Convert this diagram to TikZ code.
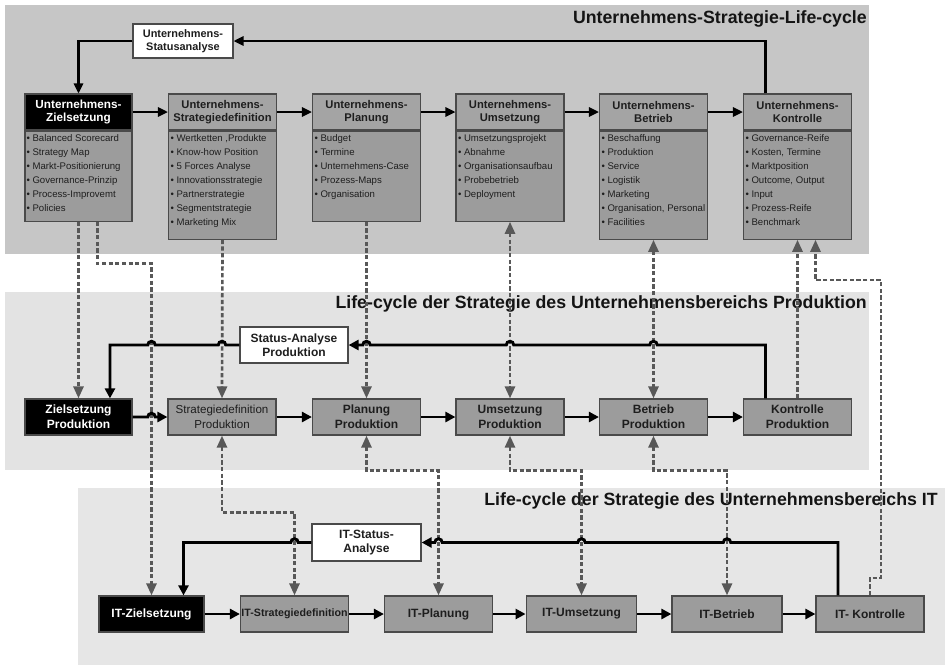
\documentclass[tikz,border=0pt]{standalone}
\usepackage{fontspec}
\setmainfont{Liberation Sans}
\usetikzlibrary{arrows.meta,calc}

\definecolor{bandA}{HTML}{C6C6C6}
\definecolor{bandB}{HTML}{E3E3E3}
\definecolor{bandC}{HTML}{E6E6E6}
\definecolor{boxgray}{HTML}{9C9C9C}
\definecolor{hdrgray}{HTML}{A4A4A4}
\definecolor{edge}{HTML}{4A4A4A}
\definecolor{dashgray}{HTML}{585858}
\definecolor{txt}{HTML}{1E1E1E}

% bullet list inside the body of a phase box
\newcommand\bl{\textbullet\hspace{2pt}}
\newcommand\blist[2]{\parbox[t][#1][t]{78pt}{\fontsize{7.2}{10.5}\selectfont\raggedright\strut #2}}

\begin{document}
\begin{tikzpicture}[x=0.75pt,y=-0.75pt,
  hdr/.style={draw=edge,line width=0.9pt,fill=hdrgray,minimum width=81pt,minimum height=27pt,
    inner sep=0pt,align=center,font=\bfseries\fontsize{8.4}{9.6}\selectfont,text=txt},
  blackhdr/.style={hdr,fill=black,text=white,font=\bfseries\fontsize{8.8}{10}\selectfont},
  bodybox/.style={draw=edge,line width=0.9pt,fill=boxgray,anchor=north,inner xsep=1.5pt,inner ysep=0pt,text=txt},
  pbox/.style={draw=edge,line width=0.9pt,fill=boxgray,minimum width=81pt,minimum height=27pt,
    inner sep=0pt,align=center,font=\bfseries\fontsize{9}{11}\selectfont,text=txt},
  pblack/.style={pbox,fill=black,text=white},
  statbox/.style={draw=edge,line width=0.9pt,fill=white,align=center,inner sep=0pt,
    font=\bfseries\fontsize{9}{10.8}\selectfont,text=txt},
  title/.style={anchor=base east,inner sep=0pt,font=\bfseries\fontsize{13.3}{16}\selectfont,text=black!92},
  flowt/.style={line width=1.6pt,-{Triangle[length=7.5pt,width=7pt]}},
  flow/.style={line width=2.2pt,-{Triangle[length=7.5pt,width=7.5pt]}},
  dl/.style={draw=dashgray,line width=2pt,dash pattern=on 3.2pt off 1.8pt},
  dla/.style={dl,-{Triangle[length=9pt,width=7.5pt]}},
  dlb/.style={dl,{Triangle[length=9pt,width=7.5pt]}-{Triangle[length=9pt,width=7.5pt]}},
  hopl/.style={insert path={-- ([xshift=2.8pt]#1) arc[start angle=0,end angle=180,radius=2.8pt]}},
  hopr/.style={insert path={-- ([xshift=-2.8pt]#1) arc[start angle=180,end angle=0,radius=2.8pt]}}]

\useasboundingbox (0,0) rectangle (945,665);

% background bands
\fill[bandA] (5,5) rectangle (869,254);
\fill[bandB] (5,292) rectangle (869,470);
\fill[bandC] (78,488) rectangle (945,665);

\node[title] (t1) at (867,23) {Unternehmens-Strategie-Life-cycle};
\node[title] (t2) at (867,308) {Life-cycle der Strategie des Unternehmensbereichs Produktion};
\node[title] (t3) at (938,505) {Life-cycle der Strategie des Unternehmensbereichs IT};

% ---------- company level ----------
\node[blackhdr,minimum width=80.25pt] (zh) at (78.5,112) {Unternehmens-\\Zielsetzung};
\node[hdr] (sh) at (222.5,112) {Unternehmens-\\Strategiedefinition};
\node[hdr] (ph) at (366.5,112) {Unternehmens-\\Planung};
\node[hdr] (uh) at (510,112) {Unternehmens-\\Umsetzung};
\node[hdr] (bh) at (653.5,112) {Unternehmens-\\Betrieb};
\node[hdr] (kh) at (797.5,112) {Unternehmens-\\Kontrolle};

\node[bodybox,inner xsep=1.1pt] (zb) at (zh.south) {\blist{67.5pt}{\bl Balanced Scorecard\\\bl Strategy Map\\\bl Markt-Positionierung\\\bl Governance-Prinzip\\\bl Process-Improvemt\\\bl Policies}};
\node[bodybox] (sb) at (sh.south) {\blist{81pt}{\bl Wertketten ,Produkte\\\bl Know-how Position\\\bl 5 Forces Analyse\\\bl Innovationsstrategie\\\bl Partnerstrategie\\\bl Segmentstrategie\\\bl Marketing Mix}};
\node[bodybox] (pb) at (ph.south) {\blist{67.5pt}{\bl Budget\\\bl Termine\\\bl Unternehmens-Case\\\bl Prozess-Maps\\\bl Organisation}};
\node[bodybox] (ub) at (uh.south) {\blist{67.5pt}{\bl Umsetzungsprojekt\\\bl Abnahme\\\bl Organisationsaufbau\\\bl Probebetrieb\\\bl Deployment}};
\node[bodybox] (bb) at (bh.south) {\blist{81pt}{\bl Beschaffung\\\bl Produktion\\\bl Service\\\bl Logistik\\\bl Marketing\\\bl Organisation, Personal\\\bl Facilities}};
\node[bodybox] (kb) at (kh.south) {\blist{81pt}{\bl Governance-Reife\\\bl Kosten, Termine\\\bl Marktposition\\\bl Outcome, Output\\\bl Input\\\bl Prozess-Reife\\\bl Benchmark}};

\node[statbox,minimum width=75pt,minimum height=25.5pt,font=\bfseries\fontsize{8.2}{10}\selectfont] (usa) at (183,41) {Unternehmens-\\Statusanalyse};

% ---------- production level ----------
\node[pblack,minimum width=80.25pt] (zp) at (78.5,417) {Zielsetzung\\Produktion};
\node[pbox,font=\fontsize{8.7}{11}\selectfont] (sp) at (222,417) {Strategiedefinition\\Produktion};
\node[pbox] (pp) at (366.5,417) {Planung\\Produktion};
\node[pbox] (up) at (510,417) {Umsetzung\\Produktion};
\node[pbox] (bp) at (653.5,417) {Betrieb\\Produktion};
\node[pbox] (kp) at (797.5,417) {Kontrolle\\Produktion};

\node[statbox,minimum width=81pt,minimum height=27pt] (sap) at (294,345) {Status-Analyse\\Produktion};

% ---------- IT level ----------
\node[pblack,minimum width=78.75pt] (itz) at (151.5,614) {IT-Zielsetzung};
\node[pbox,font=\bfseries\fontsize{8}{10}\selectfont] (its) at (294.5,614) {IT-Strategiedefinition};
\node[pbox] (itp) at (438.5,614) {IT-Planung};
\node[pbox,minimum width=83pt] (itu) at (581.5,614) {IT-Umsetzung};
\node[pbox,minimum width=82.5pt] (itb) at (727,614) {IT-Betrieb};
\node[pbox] (itk) at (870,614) {IT- Kontrolle};

\node[statbox,minimum width=81.75pt,minimum height=27.75pt] (itsa) at (366.5,542.5) {IT-Status-\\Analyse};

% crossing points of dashed links with solid lines
\coordinate (j1) at (bp.north |- sap.east);
\coordinate (j2) at (up.north |- sap.east);
\coordinate (j3) at (pp.north |- sap.east);
\coordinate (j4) at (sp.north |- sap.west);
\coordinate (j5) at (itz.north |- sap.west);
\coordinate (j6) at (itz.north |- zp.east);
\coordinate (k1) at (itb.north |- itsa.east);
\coordinate (k2) at (itu.north |- itsa.east);
\coordinate (k3) at (itp.north |- itsa.east);
\coordinate (k4) at (its.north |- itsa.west);

\coordinate (kpo) at ([xshift=-24pt]kp.north);
\coordinate (zpi) at ([xshift=23.6pt]zp.north);
\coordinate (itko) at ([xshift=-24pt]itk.north);
\coordinate (itzi) at ([xshift=24pt]itz.north);
\coordinate (r1) at (881,578);
\coordinate (r2) at (881,280);
\coordinate (ktip) at ([xshift=13.5pt]kb.south);

% dashed links between the levels
\draw[dla] (zb.south) -- (zp.north);
\draw[dla] ([xshift=14pt]zb.south) -- ++(0,42) -| (itz.north);
\draw[dla] (sb.south) -- (sp.north);
\draw[dlb] (sp.south) -- ++(0,77) -| (its.north);
\draw[dla] (pb.south) -- (pp.north);
\draw[dlb] (pp.south) -- ++(0,35) -| (itp.north);
\draw[dlb] (ub.south) -- (up.north);
\draw[dlb] (up.south) -- ++(0,35) -| (itu.north);
\draw[dlb] (bb.south) -- (bp.north);
\draw[dlb] (bp.south) -- ++(0,35) -| (itb.north);
\draw[dla] (kp.north) -- (kb.south);
\draw[dla] (itk.north) |- (r1) -- (r2) -| (ktip);

% main flow, company level
\draw[flowt] (zh) -- (sh);
\draw[flowt] (sh) -- (ph);
\draw[flowt] (ph) -- (uh);
\draw[flowt] (uh) -- (bh);
\draw[flowt] (bh) -- (kh);
\draw[flowt] ([xshift=-24pt]kh.north) |- (usa.east);
\draw[flowt] (usa.west) -| (zh.north);

% main flow, production level
\draw[flow] (zp.east) [hopr=j6] -- (sp.west);
\draw[flow] (sp) -- (pp);
\draw[flow] (pp) -- (up);
\draw[flow] (up) -- (bp);
\draw[flow] (bp) -- (kp);
\draw[flow] (kpo) -- (kpo |- sap.east) [hopl=j1] [hopl=j2] [hopl=j3] -- (sap.east);
\draw[flow] (sap.west) [hopl=j4] [hopl=j5] -| (zpi);

% main flow, IT level
\draw[flow] (itz) -- (its);
\draw[flow] (its) -- (itp);
\draw[flow] (itp) -- (itu);
\draw[flow] (itu) -- (itb);
\draw[flow] (itb) -- (itk);
\draw[flow] (itko) -- (itko |- itsa.east) [hopl=k1] [hopl=k2] [hopl=k3] -- (itsa.east);
\draw[flow] (itsa.west) [hopl=k4] -| (itzi);

\end{tikzpicture}
\end{document}
